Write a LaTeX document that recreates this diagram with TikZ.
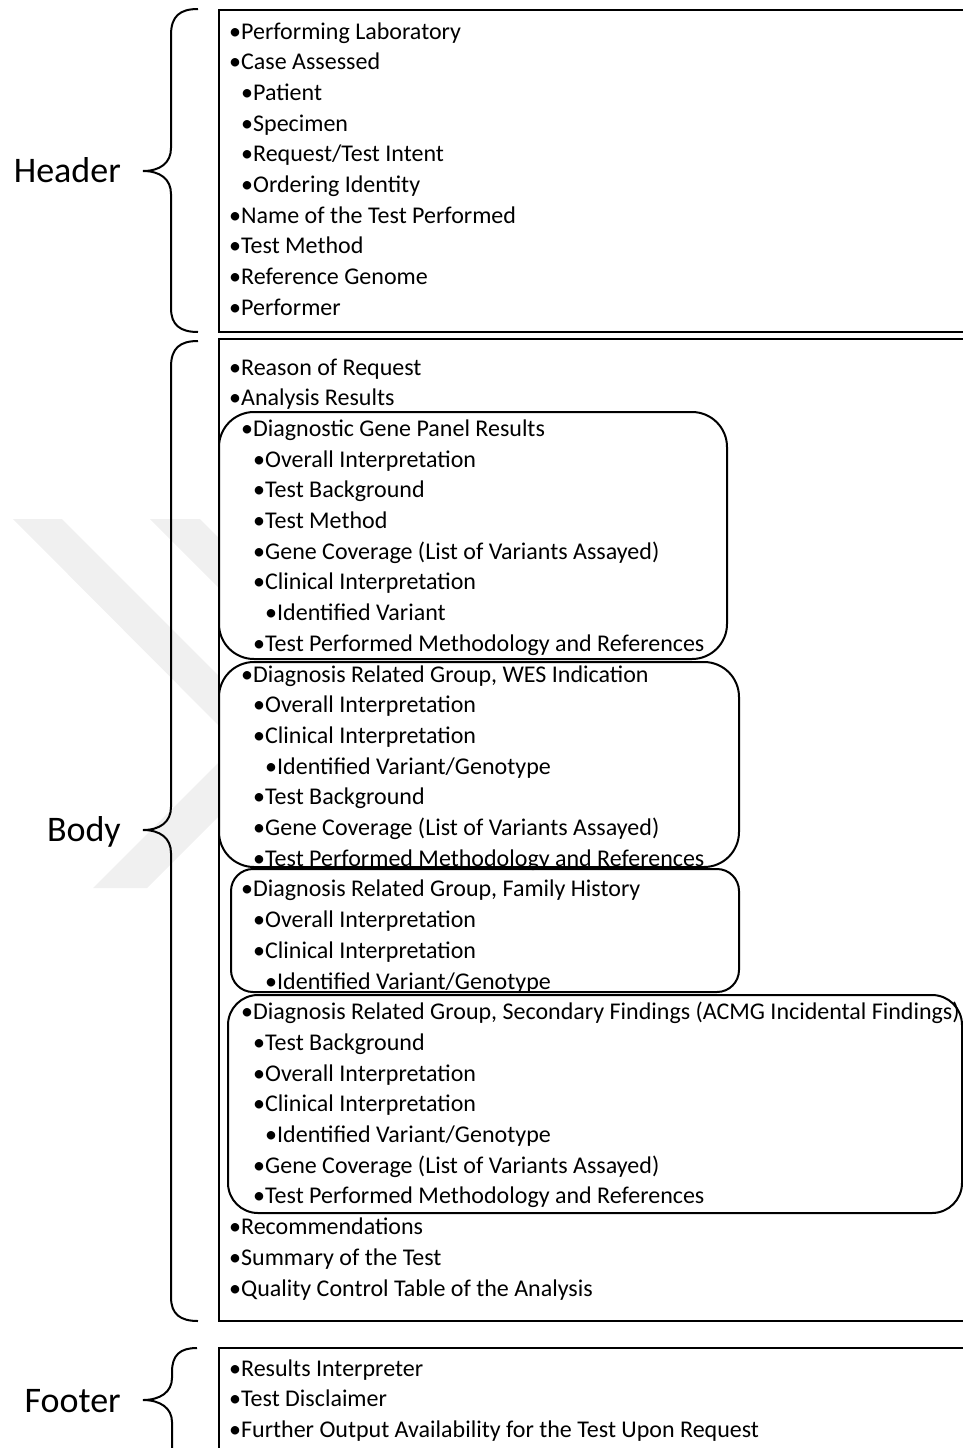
\documentclass[tikz,border=0pt]{standalone}
\usepackage{fontspec}
\setmainfont{Carlito}
\usepackage{tikz}

\begin{document}
\begin{tikzpicture}[x=1pt, y=-1pt,
    item/.style={anchor=base west, inner sep=0pt, font=\fontsize{24}{29}\selectfont},
    part/.style={anchor=base east, inner sep=0pt, font=\fontsize{36}{43}\selectfont},
    frame/.style={draw, line width=2.5pt, fill=white},
    grp/.style={draw, line width=2pt},
    brc/.style={draw, line width=2pt}]
    \useasboundingbox (0,0) rectangle (963,1448);
    \clip (0,0) rectangle (963,1448);
    \fill[black!6] (13,519) -- (62,519) -- (289,746) -- (147,888) -- (93,888) -- (237,744) -- cycle;
    \fill[black!6] (150,519) -- (200,519) -- (427,746) -- (284,888) -- (230,888) -- (375,744) -- cycle;
    \draw[frame] (219,10) rectangle (980,332);
    \draw[frame] (219,339) rectangle (980,1321);
    \draw[frame] (219,1348) rectangle (980,1470);
    \draw[grp, rounded corners=35pt] (219,412) rectangle (727,659);
    \draw[grp, rounded corners=35pt] (219,662) rectangle (739,867);
    \draw[grp, rounded corners=22pt] (231,869) rectangle (739,992);
    \draw[grp, rounded corners=30pt] (228,995) rectangle (962,1213);
    \draw[brc] (198,9) .. controls (180,9) and (171,16) .. (171,35) -- (171,148)
        .. controls (171,163) and (160,171) .. (143,171) .. controls (160,171) and (171,179) .. (171,194)
        -- (171,308) .. controls (171,325) and (180,332) .. (198,332);
    \draw[brc] (198,341) .. controls (180,341) and (171,348) .. (171,367) -- (171,807)
        .. controls (171,822) and (160,830) .. (143,830) .. controls (160,830) and (171,838) .. (171,853)
        -- (171,1297) .. controls (171,1314) and (180,1321) .. (198,1321);
    \draw[brc] (197,1348) .. controls (180,1348) and (172,1355) .. (172,1372) -- (172,1378)
        .. controls (172,1392) and (160,1400) .. (143,1400) .. controls (160,1400) and (172,1408) .. (172,1422)
        -- (172,1446) .. controls (172,1463) and (180,1470) .. (197,1470);
    \node[part] (header) at (121,182) {Header};
    \node[part] (body) at (121,841) {Body};
    \node[part] (footer) at (121,1412) {Footer};
    \node[item] (h1) at (229,39) {•Performing Laboratory};
    \node[item] (h2) at (229,69.7) {•Case Assessed};
    \node[item] (h3) at (241,100.4) {•Patient};
    \node[item] (h4) at (241,131.1) {•Specimen};
    \node[item] (h5) at (241,161.8) {•Request/Test Intent};
    \node[item] (h6) at (241,192.5) {•Ordering Identity};
    \node[item] (h7) at (229,223.2) {•Name of the Test Performed};
    \node[item] (h8) at (229,253.9) {•Test Method};
    \node[item] (h9) at (229,284.6) {•Reference Genome};
    \node[item] (h10) at (229,315.3) {•Performer};
    \node[item] (b1) at (229,375) {•Reason of Request};
    \node[item] (b2) at (229,405.7) {•Analysis Results};
    \node[item] (b3) at (241,436.4) {•Diagnostic Gene Panel Results};
    \node[item] (b4) at (253,467.1) {•Overall Interpretation};
    \node[item] (b5) at (253,497.8) {•Test Background};
    \node[item] (b6) at (253,528.5) {•Test Method};
    \node[item] (b7) at (253,559.2) {•Gene Coverage (List of Variants Assayed)};
    \node[item] (b8) at (253,589.9) {•Clinical Interpretation};
    \node[item] (b9) at (265,620.6) {•Identified Variant};
    \node[item] (b10) at (253,651.3) {•Test Performed Methodology and References};
    \node[item] (b11) at (241,682) {•Diagnosis Related Group, WES Indication};
    \node[item] (b12) at (253,712.7) {•Overall Interpretation};
    \node[item] (b13) at (253,743.4) {•Clinical Interpretation};
    \node[item] (b14) at (265,774.1) {•Identified Variant/Genotype};
    \node[item] (b15) at (253,804.8) {•Test Background};
    \node[item] (b16) at (253,835.5) {•Gene Coverage (List of Variants Assayed)};
    \node[item] (b17) at (253,866.2) {•Test Performed Methodology and References};
    \node[item] (b18) at (241,896.9) {•Diagnosis Related Group, Family History};
    \node[item] (b19) at (253,927.6) {•Overall Interpretation};
    \node[item] (b20) at (253,958.3) {•Clinical Interpretation};
    \node[item] (b21) at (265,989) {•Identified Variant/Genotype};
    \node[item] (b22) at (241,1019.7) {•Diagnosis Related Group, Secondary Findings (ACMG Incidental Findings)};
    \node[item] (b23) at (253,1050.4) {•Test Background};
    \node[item] (b24) at (253,1081.1) {•Overall Interpretation};
    \node[item] (b25) at (253,1111.8) {•Clinical Interpretation};
    \node[item] (b26) at (265,1142.5) {•Identified Variant/Genotype};
    \node[item] (b27) at (253,1173.2) {•Gene Coverage (List of Variants Assayed)};
    \node[item] (b28) at (253,1203.9) {•Test Performed Methodology and References};
    \node[item] (b29) at (229,1234.6) {•Recommendations};
    \node[item] (b30) at (229,1265.3) {•Summary of the Test};
    \node[item] (b31) at (229,1296) {•Quality Control Table of the Analysis};
    \node[item] (f1) at (229,1376) {•Results Interpreter};
    \node[item] (f2) at (229,1406.7) {•Test Disclaimer};
    \node[item] (f3) at (229,1437.4) {•Further Output Availability for the Test Upon Request};
\end{tikzpicture}
\end{document}
